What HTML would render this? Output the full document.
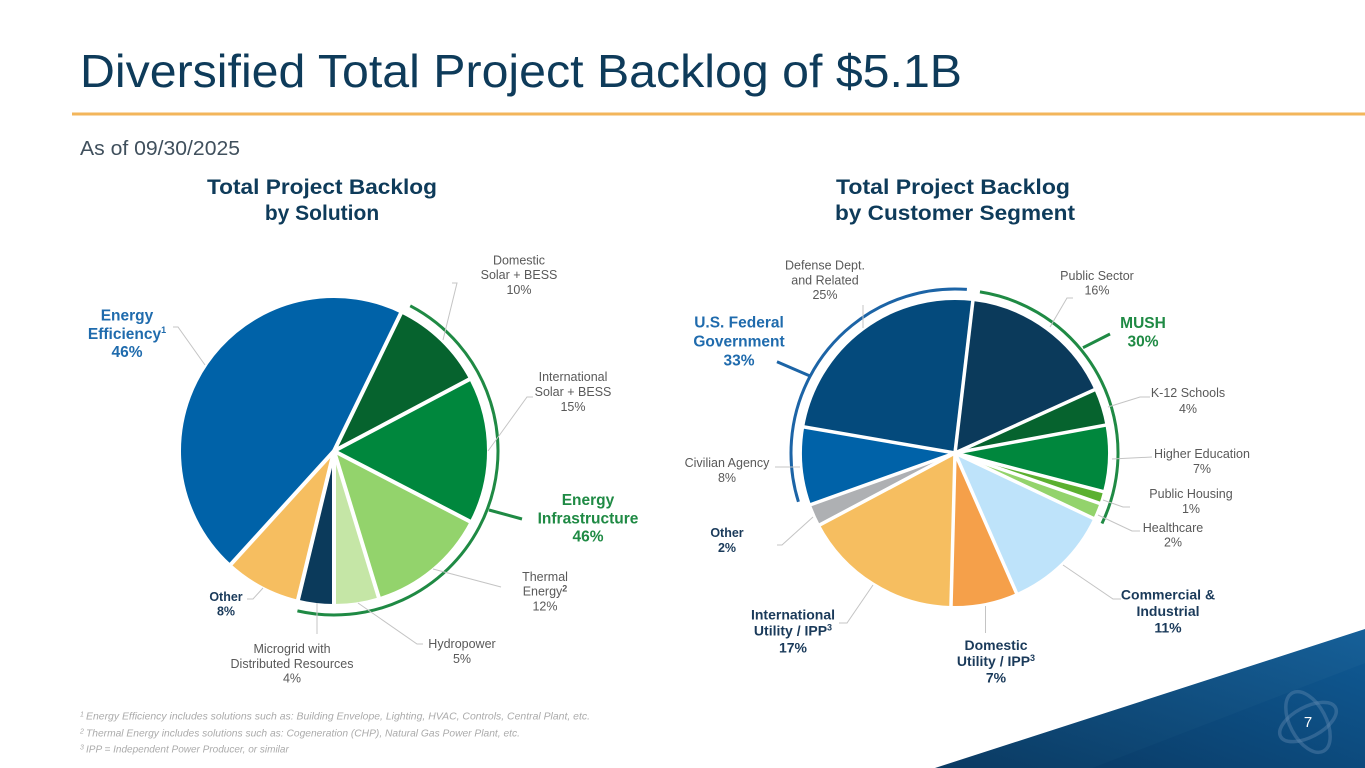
<!DOCTYPE html>
<html>
<head>
<meta charset="utf-8">
<style>
  html,body{margin:0;padding:0;background:#fff;}
  body{width:1365px;height:768px;overflow:hidden;}
  svg{display:block;}
  text{font-family:"Liberation Sans", Arial, sans-serif;}
  .n{font-size:12.5px;fill:#595959;}
  .bn{font-size:14px;font-weight:bold;fill:#1a3a5a;}
  .bo{font-size:12.5px;font-weight:bold;fill:#1a3a5a;}
  .bb{font-size:15.5px;font-weight:bold;fill:#1f6bad;}
  .bg{font-size:15.5px;font-weight:bold;fill:#1f8a44;}
  .ld{fill:none;stroke:#c4c4c4;stroke-width:1;}
  .sep{stroke:#fff;stroke-width:4;}
  .sep2{stroke:#fff;stroke-width:3.5;}
  .fn{font-size:10px;font-style:italic;fill:#ababab;}
</style>
</head>
<body>
<svg width="1365" height="768" viewBox="0 0 1365 768" xmlns="http://www.w3.org/2000/svg">
  <defs>
    <linearGradient id="gA" x1="0" y1="1" x2="1" y2="0">
      <stop offset="0" stop-color="#0a3a62"/>
      <stop offset="1" stop-color="#166099"/>
    </linearGradient>
    <linearGradient id="gB" x1="0" y1="1" x2="1" y2="0">
      <stop offset="0" stop-color="#0a3d69"/>
      <stop offset="1" stop-color="#0f5790"/>
    </linearGradient>
  </defs>

  <!-- Title -->
  <text x="80" y="87" font-size="46" fill="#0e3b5a" textLength="882" lengthAdjust="spacingAndGlyphs">Diversified Total Project Backlog of $5.1B</text>
  <rect x="72" y="112.5" width="1293" height="3" fill="#f3b65b"/>
  <text x="80" y="155" font-size="20" fill="#40505d" textLength="160" lengthAdjust="spacingAndGlyphs">As of 09/30/2025</text>

  <!-- Subtitles -->
  <text x="322" y="194" font-size="21" font-weight="bold" fill="#0e3b5a" text-anchor="middle" textLength="230" lengthAdjust="spacingAndGlyphs">Total Project Backlog</text>
  <text x="322" y="220" font-size="21" font-weight="bold" fill="#0e3b5a" text-anchor="middle">by Solution</text>
  <text x="953" y="194" font-size="21" font-weight="bold" fill="#0e3b5a" text-anchor="middle" textLength="234" lengthAdjust="spacingAndGlyphs">Total Project Backlog</text>
  <text x="955" y="220" font-size="21" font-weight="bold" fill="#0e3b5a" text-anchor="middle" textLength="240" lengthAdjust="spacingAndGlyphs">by Customer Segment</text>

  <!-- ===== LEFT PIE (cx 334, cy 451, r 153) ===== -->
  <g fill="none" stroke-width="153">
    <circle cx="334" cy="451" r="76.5" stroke="#0062a8" stroke-dasharray="219 1000" transform="rotate(132.3 334 451)"/>
    <circle cx="334" cy="451" r="76.5" stroke="#06632e" stroke-dasharray="48.8 1000" transform="rotate(-64.1 334 451)"/>
    <circle cx="334" cy="451" r="76.5" stroke="#00873d" stroke-dasharray="74.3 1000" transform="rotate(-27.9 334 451)"/>
    <circle cx="334" cy="451" r="76.5" stroke="#93d36c" stroke-dasharray="61.4 1000" transform="rotate(27.4 334 451)"/>
    <circle cx="334" cy="451" r="76.5" stroke="#c5e6a6" stroke-dasharray="23.2 1000" transform="rotate(73 334 451)"/>
    <circle cx="334" cy="451" r="76.5" stroke="#0b3a5b" stroke-dasharray="18.6 1000" transform="rotate(90 334 451)"/>
    <circle cx="334" cy="451" r="76.5" stroke="#f6be60" stroke-dasharray="38.8 1000" transform="rotate(103.6 334 451)"/>
  </g>
  <g class="sep">
    <line x1="334" y1="451" x2="334" y2="290" transform="rotate(25.9 334 451)"/>
    <line x1="334" y1="451" x2="334" y2="290" transform="rotate(62.1 334 451)"/>
    <line x1="334" y1="451" x2="334" y2="290" transform="rotate(117.4 334 451)"/>
    <line x1="334" y1="451" x2="334" y2="290" transform="rotate(163 334 451)"/>
    <line x1="334" y1="451" x2="334" y2="290" transform="rotate(180 334 451)"/>
    <line x1="334" y1="451" x2="334" y2="290" transform="rotate(193.6 334 451)"/>
    <line x1="334" y1="451" x2="334" y2="290" transform="rotate(222.3 334 451)"/>
  </g>
  <!-- green arc -->
  <circle cx="334" cy="451" r="164" fill="none" stroke="#1f8a44" stroke-width="3" stroke-dasharray="472.6 2000" transform="rotate(-62.3 334 451)"/>
  <line x1="489" y1="510" x2="522" y2="519" stroke="#1f8a44" stroke-width="3"/>

  <!-- left leaders -->
  <polyline class="ld" points="173,327 178,327 205,365"/>
  <polyline class="ld" points="452,283 457,283 443,340"/>
  <polyline class="ld" points="533,397 527,397 488,451"/>
  <polyline class="ld" points="501,587 433,569"/>
  <polyline class="ld" points="423,644 417,644 358,603"/>
  <polyline class="ld" points="317,603 317,634"/>
  <polyline class="ld" points="247,599 253,599 263,588"/>

  <!-- left labels -->
  <text class="bb" text-anchor="middle"><tspan x="127" y="320.5">Energy</tspan><tspan x="127" y="339">Efficiency<tspan font-size="9" dy="-6">1</tspan></tspan><tspan x="127" y="357">46%</tspan></text>
  <text class="n" text-anchor="middle"><tspan x="519" y="264.5">Domestic</tspan><tspan x="519" y="279">Solar + BESS</tspan><tspan x="519" y="294">10%</tspan></text>
  <text class="n" text-anchor="middle"><tspan x="573" y="381">International</tspan><tspan x="573" y="396">Solar + BESS</tspan><tspan x="573" y="411">15%</tspan></text>
  <text class="bg" text-anchor="middle"><tspan x="588" y="505">Energy</tspan><tspan x="588" y="523.3">Infrastructure</tspan><tspan x="588" y="541.7">46%</tspan></text>
  <text class="n" text-anchor="middle"><tspan x="545" y="581">Thermal</tspan><tspan x="545" y="595.5">Energy<tspan font-size="9" font-weight="bold" dy="-4">2</tspan></tspan><tspan x="545" y="610.5">12%</tspan></text>
  <text class="n" text-anchor="middle"><tspan x="462" y="648">Hydropower</tspan><tspan x="462" y="663">5%</tspan></text>
  <text class="n" text-anchor="middle"><tspan x="292" y="653">Microgrid with</tspan><tspan x="292" y="668">Distributed Resources</tspan><tspan x="292" y="682.5">4%</tspan></text>
  <text class="bo" text-anchor="middle"><tspan x="226" y="601">Other</tspan><tspan x="226" y="615.5">8%</tspan></text>

  <!-- ===== RIGHT PIE (cx 955, cy 453, r 153) ===== -->
  <g fill="none" stroke-width="153">
    <circle cx="955" cy="453" r="76.5" stroke="#0b3a5b" stroke-dasharray="79.1 1000" transform="rotate(-83.3 955 453)"/>
    <circle cx="955" cy="453" r="76.5" stroke="#06632e" stroke-dasharray="19 1000" transform="rotate(-24.4 955 453)"/>
    <circle cx="955" cy="453" r="76.5" stroke="#00873d" stroke-dasharray="34 1000" transform="rotate(-10.5 955 453)"/>
    <circle cx="955" cy="453" r="76.5" stroke="#5bb030" stroke-dasharray="6.6 1000" transform="rotate(14.6 955 453)"/>
    <circle cx="955" cy="453" r="76.5" stroke="#93d36c" stroke-dasharray="8.6 1000" transform="rotate(19.2 955 453)"/>
    <circle cx="955" cy="453" r="76.5" stroke="#bee3fa" stroke-dasharray="55.2 1000" transform="rotate(25.3 955 453)"/>
    <circle cx="955" cy="453" r="76.5" stroke="#f5a04a" stroke-dasharray="34.1 1000" transform="rotate(66.3 955 453)"/>
    <circle cx="955" cy="453" r="76.5" stroke="#f6be60" stroke-dasharray="81.3 1000" transform="rotate(91.5 955 453)"/>
    <circle cx="955" cy="453" r="76.5" stroke="#aeb0b3" stroke-dasharray="11.5 1000" transform="rotate(152 955 453)"/>
    <circle cx="955" cy="453" r="76.5" stroke="#0062a8" stroke-dasharray="39.9 1000" transform="rotate(160.3 955 453)"/>
    <circle cx="955" cy="453" r="76.5" stroke="#044a7c" stroke-dasharray="116.5 1000" transform="rotate(189.8 955 453)"/>
  </g>
  <g class="sep2">
    <line x1="955" y1="453" x2="955" y2="292" transform="rotate(6.7 955 453)"/>
    <line x1="955" y1="453" x2="955" y2="292" transform="rotate(65.6 955 453)"/>
    <line x1="955" y1="453" x2="955" y2="292" transform="rotate(79.5 955 453)"/>
    <line x1="955" y1="453" x2="955" y2="292" transform="rotate(104.6 955 453)"/>
    <line x1="955" y1="453" x2="955" y2="292" transform="rotate(109.2 955 453)"/>
    <line x1="955" y1="453" x2="955" y2="292" transform="rotate(115.3 955 453)"/>
    <line x1="955" y1="453" x2="955" y2="292" transform="rotate(156.3 955 453)"/>
    <line x1="955" y1="453" x2="955" y2="292" transform="rotate(181.5 955 453)"/>
    <line x1="955" y1="453" x2="955" y2="292" transform="rotate(242 955 453)"/>
    <line x1="955" y1="453" x2="955" y2="292" transform="rotate(250.3 955 453)"/>
    <line x1="955" y1="453" x2="955" y2="292" transform="rotate(279.8 955 453)"/>
  </g>
  <!-- arcs -->
  <circle cx="955" cy="453" r="164" fill="none" stroke="#1c64a6" stroke-width="3" stroke-dasharray="318.9 2000" transform="rotate(162.7 955 453)"/>
  <line x1="777" y1="361.7" x2="810" y2="376" stroke="#1c64a6" stroke-width="3"/>
  <circle cx="955" cy="453" r="163" fill="none" stroke="#1f8a44" stroke-width="3" stroke-dasharray="303.8 2000" transform="rotate(-81.2 955 453)"/>
  <line x1="1083" y1="347.7" x2="1110" y2="334" stroke="#1f8a44" stroke-width="3"/>

  <!-- right leaders -->
  <polyline class="ld" points="863,305 863,328"/>
  <polyline class="ld" points="1073,298 1067,298 1050,327"/>
  <polyline class="ld" points="1150,397 1140,397 1108,407"/>
  <polyline class="ld" points="1152,457 1112,459"/>
  <polyline class="ld" points="1130,507 1123,507 1103,500"/>
  <polyline class="ld" points="1140,531 1132,531 1098,515"/>
  <polyline class="ld" points="1063,565 1113,599 1121,599"/>
  <polyline class="ld" points="985.5,606 985.5,633"/>
  <polyline class="ld" points="873,585 847,623 839,623"/>
  <polyline class="ld" points="813,517 782,545 777,545"/>
  <polyline class="ld" points="775,467 800,467"/>

  <!-- right labels -->
  <text class="n" text-anchor="middle"><tspan x="825" y="269.5">Defense Dept.</tspan><tspan x="825" y="284.5">and Related</tspan><tspan x="825" y="299">25%</tspan></text>
  <text class="n" text-anchor="middle"><tspan x="1097" y="280">Public Sector</tspan><tspan x="1097" y="294.5">16%</tspan></text>
  <text class="bb" text-anchor="middle"><tspan x="739" y="327.3">U.S. Federal</tspan><tspan x="739" y="346.3">Government</tspan><tspan x="739" y="365.6">33%</tspan></text>
  <text class="bg" text-anchor="middle"><tspan x="1143" y="328">MUSH</tspan><tspan x="1143" y="346.6">30%</tspan></text>
  <text class="n" text-anchor="middle"><tspan x="1188" y="397.2">K-12 Schools</tspan><tspan x="1188" y="413">4%</tspan></text>
  <text class="n" text-anchor="middle"><tspan x="1202" y="458">Higher Education</tspan><tspan x="1202" y="473">7%</tspan></text>
  <text class="n" text-anchor="middle"><tspan x="1191" y="498">Public Housing</tspan><tspan x="1191" y="513">1%</tspan></text>
  <text class="n" text-anchor="middle"><tspan x="1173" y="532">Healthcare</tspan><tspan x="1173" y="546.5">2%</tspan></text>
  <text class="n" text-anchor="middle"><tspan x="727" y="467">Civilian Agency</tspan><tspan x="727" y="482">8%</tspan></text>
  <text class="bo" text-anchor="middle"><tspan x="727" y="537.2">Other</tspan><tspan x="727" y="552.2">2%</tspan></text>
  <text class="bn" text-anchor="middle"><tspan x="1168" y="599.3">Commercial &amp;</tspan><tspan x="1168" y="616">Industrial</tspan><tspan x="1168" y="632.3">11%</tspan></text>
  <text class="bn" text-anchor="middle"><tspan x="793" y="619.3">International</tspan><tspan x="793" y="635.7">Utility / IPP<tspan font-size="9" dy="-5">3</tspan></tspan><tspan x="793" y="652.3">17%</tspan></text>
  <text class="bn" text-anchor="middle"><tspan x="996" y="650">Domestic</tspan><tspan x="996" y="666">Utility / IPP<tspan font-size="9" dy="-5">3</tspan></tspan><tspan x="996" y="682.3">7%</tspan></text>

  <!-- footnotes -->
  <text class="fn" x="80" y="719.5"><tspan font-size="7" dy="-3">1</tspan></text>
  <text class="fn" x="86" y="719.5" textLength="504" lengthAdjust="spacingAndGlyphs">Energy Efficiency includes solutions such as: Building Envelope, Lighting, HVAC, Controls, Central Plant, etc.</text>
  <text class="fn" x="80" y="736.5"><tspan font-size="7" dy="-3">2</tspan></text>
  <text class="fn" x="86" y="736.5" textLength="434" lengthAdjust="spacingAndGlyphs">Thermal Energy includes solutions such as: Cogeneration (CHP), Natural Gas Power Plant, etc.</text>
  <text class="fn" x="80" y="752.5"><tspan font-size="7" dy="-3">3</tspan></text>
  <text class="fn" x="86" y="752.5">IPP = Independent Power Producer, or similar</text>

  <!-- bottom-right swoosh -->
  <polygon points="935,768 1365,629 1365,768" fill="url(#gA)"/>
  <polygon points="1092,768 1365,663 1365,768" fill="url(#gB)"/>
  <!-- logo -->
  <g fill="none" stroke="#5a86ac" stroke-opacity="0.45" stroke-width="3.5">
    <ellipse cx="1308" cy="722" rx="31" ry="15" transform="rotate(-28 1308 722)"/>
    <ellipse cx="1308" cy="722" rx="33" ry="18" transform="rotate(62 1308 722)"/>
  </g>
  <text x="1308" y="727" font-size="15" fill="#ffffff" text-anchor="middle">7</text>
</svg>
</body>
</html>
